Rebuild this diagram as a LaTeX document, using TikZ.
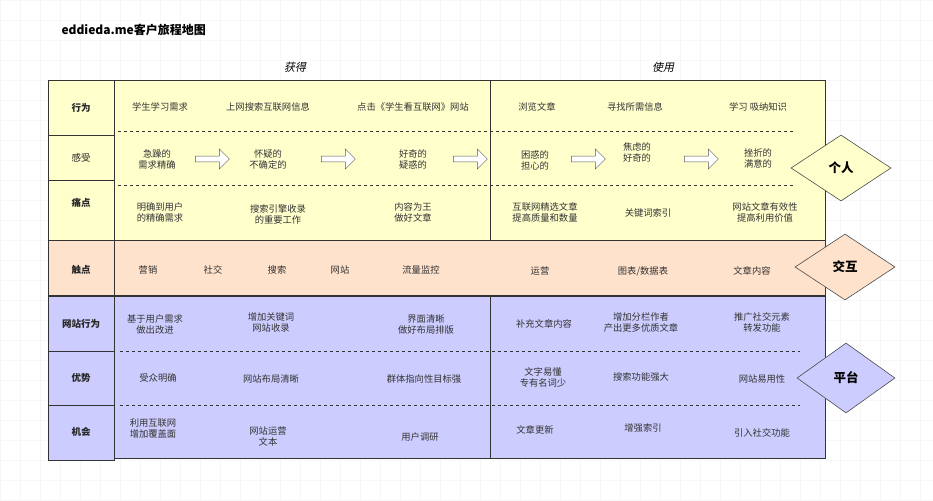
\documentclass[tikz,border=0pt]{standalone}
\usepackage{fontspec}
\setmainfont{Noto Sans CJK SC}
\newfontfamily\slantcjk[FakeSlant=0.2]{Noto Sans CJK SC}
\usetikzlibrary{shapes.geometric,shapes.arrows}
\definecolor{YEL_COLOR}{HTML}{FFFFCC}
\definecolor{PCH_COLOR}{HTML}{FFE2CC}
\definecolor{LAV_COLOR}{HTML}{CCCCFF}
\definecolor{LINE_COLOR}{HTML}{333333}
\tikzset{
  cell/.style={draw=LINE_COLOR, line width=1pt},
  sep/.style={LINE_COLOR, dashed, line width=0.6pt},
  txt/.style={font=\fontsize{9.3}{11}\selectfont, align=center, text=black!80},
  rowlab/.style={font=\fontsize{9.5}{11}\selectfont\bfseries, text=black!85},
  flow/.style={single arrow, draw=gray!70!black, fill=white, minimum height=34pt,
    minimum width=20pt, single arrow head extend=3pt, inner sep=1pt},
  role/.style={diamond, draw=gray!60!black, line width=0.6pt, aspect=1.5,
    minimum width=100pt, minimum height=66pt, inner sep=0pt,
    font=\fontsize{12.5}{14}\selectfont\bfseries}
}
\begin{document}
\begin{tikzpicture}[x=1pt,y=-1pt]
  \useasboundingbox (0,0) rectangle (933,500);
  \draw[gray!6, step=20pt] (0,0) grid (933,500);

  %%%%%%%%%%%%%%%%%%%%%%%%%%%%%%%%%%%%%%%%%%%%%%%%%
  % TITLE
  %%%%%%%%%%%%%%%%%%%%%%%%%%%%%%%%%%%%%%%%%%%%%%%%%
  \node[anchor=west, font=\fontsize{12}{14}\selectfont\bfseries] (TTL) at (58,30) {eddieda.me客户旅程地图};
  \node[font=\fontsize{11}{13}\selectfont\slantcjk] (GET) at (295,67) {获得};
  \node[font=\fontsize{11}{13}\selectfont\slantcjk] (USE) at (663,67) {使用};

  %%%%%%%%%%%%%%%%%%%%%%%%%%%%%%%%%%%%%%%%%%%%%%%%%
  % BANDS
  %%%%%%%%%%%%%%%%%%%%%%%%%%%%%%%%%%%%%%%%%%%%%%%%%
  \draw[cell, fill=YEL_COLOR] (114,81) rectangle (825,240);
  \draw[cell, fill=PCH_COLOR] (114,240) rectangle (825,295);
  \draw[cell, fill=LAV_COLOR] (114,296) rectangle (825,458);
  \draw[cell] (490,81) -- (490,240);
  \draw[cell] (490,296) -- (490,458);
  \draw[sep] (118,131) -- (793,131);
  \draw[sep] (118,185) -- (793,185);
  \draw[sep] (120,351) -- (800,351);
  \draw[sep] (120,405) -- (800,405);

  %%%%%%%%%%%%%%%%%%%%%%%%%%%%%%%%%%%%%%%%%%%%%%%%%
  % ROW LABELS
  %%%%%%%%%%%%%%%%%%%%%%%%%%%%%%%%%%%%%%%%%%%%%%%%%
  \draw[cell, fill=YEL_COLOR] (48,81) rectangle (114,135);
  \draw[cell, fill=YEL_COLOR] (48,135) rectangle (114,180);
  \draw[cell, fill=YEL_COLOR] (48,180) rectangle (114,240);
  \draw[cell, fill=PCH_COLOR] (48,240) rectangle (114,295);
  \draw[cell, fill=LAV_COLOR] (48,296) rectangle (114,351);
  \draw[cell, fill=LAV_COLOR] (48,351) rectangle (114,405);
  \draw[cell, fill=LAV_COLOR] (48,405) rectangle (114,460);
  \node[rowlab] (L1) at (81,108) {行为};
  \node[rowlab, font=\fontsize{9.5}{11}\selectfont] (L2) at (81,158) {感受};
  \node[rowlab] (L3) at (81,203) {痛点};
  \node[rowlab] (L4) at (81,270) {触点};
  \node[rowlab] (L5) at (81,324) {网站行为};
  \node[rowlab] (L6) at (81,378) {优势};
  \node[rowlab] (L7) at (81,432) {机会};

  %%%%%%%%%%%%%%%%%%%%%%%%%%%%%%%%%%%%%%%%%%%%%%%%%
  % YELLOW BAND
  %%%%%%%%%%%%%%%%%%%%%%%%%%%%%%%%%%%%%%%%%%%%%%%%%
  \node[txt] (A1) at (160,107) {学生学习需求};
  \node[txt] (A2) at (268,107) {上网搜索互联网信息};
  \node[txt] (A3) at (413,107) {点击《学生看互联网》网站};
  \node[txt] (A4) at (537,107) {浏览文章};
  \node[txt] (A5) at (635,107) {寻找所需信息};
  \node[txt] (A6) at (758,107) {学习 吸纳知识};

  \node[txt] (F1) at (157,159) {急躁的\\需求精确};
  \node[txt] (F2) at (268,159) {怀疑的\\不确定的};
  \node[txt] (F3) at (413,159) {好奇的\\疑惑的};
  \node[txt] (F4) at (535,160) {困惑的\\担心的};
  \node[txt] (F5) at (637,152) {焦虑的\\好奇的};
  \node[txt] (F6) at (758,158) {挫折的\\满意的};
  \node[flow] (R1) at (211,159) {};
  \node[flow] (R2) at (337,159) {};
  \node[flow] (R3) at (469,159) {};
  \node[flow] (R4) at (587,159) {};
  \node[flow] (R5) at (700,159) {};

  \node[txt] (P1) at (160,212) {明确到用户\\的精确需求};
  \node[txt] (P2) at (278,214) {搜索引擎收录\\的重要工作};
  \node[txt] (P3) at (413,212) {内容为王\\做好文章};
  \node[txt] (P4) at (545,212) {互联网精选文章\\提高质量和数量};
  \node[txt] (P5) at (648,213) {关键词索引};
  \node[txt] (P6) at (765,212) {网站文章有效性\\提高利用价值};

  %%%%%%%%%%%%%%%%%%%%%%%%%%%%%%%%%%%%%%%%%%%%%%%%%
  % PEACH BAND
  %%%%%%%%%%%%%%%%%%%%%%%%%%%%%%%%%%%%%%%%%%%%%%%%%
  \node[txt] (T1) at (148,270) {营销};
  \node[txt] (T2) at (213,270) {社交};
  \node[txt] (T3) at (277,270) {搜索};
  \node[txt] (T4) at (340,270) {网站};
  \node[txt] (T5) at (421,270) {流量监控};
  \node[txt] (T6) at (540,271) {运营};
  \node[txt] (T7) at (643,271) {图表/数据表};
  \node[txt] (T8) at (752,271) {文章内容};

  %%%%%%%%%%%%%%%%%%%%%%%%%%%%%%%%%%%%%%%%%%%%%%%%%
  % LAVENDER BAND
  %%%%%%%%%%%%%%%%%%%%%%%%%%%%%%%%%%%%%%%%%%%%%%%%%
  \node[txt] (W1) at (155,324) {基于用户需求\\做出改进};
  \node[txt] (W2) at (271,322) {增加关键词\\网站收录};
  \node[txt] (W3) at (426,324) {界面清晰\\做好布局排版};
  \node[txt] (W4) at (544,324) {补充文章内容};
  \node[txt] (W5) at (641,322) {增加分栏作者\\产出更多优质文章};
  \node[txt] (W6) at (762,322) {推广社交元素\\转发功能};

  \node[txt] (S1) at (158,378) {受众明确};
  \node[txt] (S2) at (271,379) {网站布局清晰};
  \node[txt] (S3) at (424,379) {群体指向性目标强};
  \node[txt] (S4) at (543,377) {文字易懂\\专有名词少};
  \node[txt] (S5) at (641,377) {搜索功能强大};
  \node[txt] (S6) at (762,379) {网站易用性};

  \node[txt] (O1) at (153,428) {利用互联网\\增加覆盖面};
  \node[txt] (O2) at (268,436) {网站运营\\文本};
  \node[txt] (O3) at (420,437) {用户调研};
  \node[txt] (O4) at (535,430) {文章更新};
  \node[txt] (O5) at (643,428) {增强索引};
  \node[txt] (O6) at (762,433) {引入社交功能};

  %%%%%%%%%%%%%%%%%%%%%%%%%%%%%%%%%%%%%%%%%%%%%%%%%
  % DIAMONDS
  %%%%%%%%%%%%%%%%%%%%%%%%%%%%%%%%%%%%%%%%%%%%%%%%%
  \node[role, fill=YEL_COLOR] (D1) at (841,168) {个人};
  \node[role, fill=PCH_COLOR] (D2) at (845,267) {交互};
  \node[role, fill=LAV_COLOR, minimum width=98pt, minimum height=70pt] (D3) at (846,378) {平台};
\end{tikzpicture}
\end{document}
